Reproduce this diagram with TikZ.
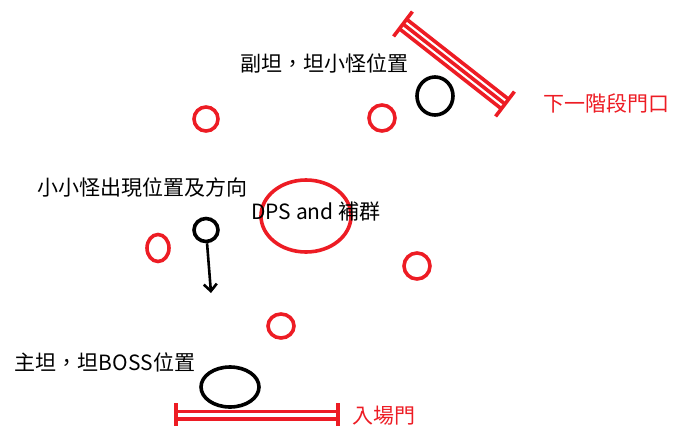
\documentclass[tikz,border=0pt]{standalone}
\usepackage{fontspec}
\usepackage{xcolor}
\usepackage{tikz}
\usetikzlibrary{shapes.geometric, arrows.meta, positioning, calc}
\newfontfamily\cjk{Noto Sans CJK TC}
\definecolor{paintred}{RGB}{237,28,36}

\begin{document}
\begin{tikzpicture}[
  x=1pt, y=-1pt,
  font=\cjk\fontsize{21}{24}\selectfont,
  redspot/.style={ellipse, draw=paintred, line width=3.6pt, inner sep=0pt},
  blackspot/.style={ellipse, draw=black, line width=3.6pt, inner sep=0pt},
  label/.style={inner sep=0pt, anchor=center},
  redlabel/.style={label, text=paintred},
  gate/.style={draw=paintred, line width=3.6pt},
  arrow/.style={-{Straight Barb[length=7pt, width=13pt]}, line width=2.6pt},
]
\useasboundingbox (0,0) rectangle (679,434);

% gate to the next stage
\coordinate (ga) at (403,24);
\coordinate (gb) at (505,104);
\draw[gate] (399.3,28.7) -- (501.3,108.7);
\draw[gate] (ga) -- (gb);
\draw[gate] (406.7,19.3) -- (508.7,99.3);
\draw[gate] (393.6,36.4) -- (412.4,11.6);
\draw[gate] (495.6,116.4) -- (514.4,91.6);
\node[redlabel] (nextgate) at (606,103) {下一階段門口};

% entrance
\draw[gate] (176,411.5) -- (338,411.5);
\draw[gate] (176,419) -- (338,419);
\draw[gate] (176,403) -- (176,426);
\draw[gate] (338,403) -- (338,426);
\node[redlabel] (entrance) at (384,416) {入場門};

% tanks
\node[blackspot, minimum width=36pt, minimum height=38pt] (offtank) at (435,96) {};
\node[label] (offtanktext) at (324,63) {副坦，坦小怪位置};
\node[blackspot, minimum width=58pt, minimum height=40pt] (maintank) at (230,387) {};
\node[label] (maintanktext) at (105,362) {主坦，坦BOSS位置};

% dps and healers
\node[redspot, minimum width=90pt, minimum height=72pt] (dps) at (306,216) {};
\node[label] (dpstext) at (316,212) {DPS and 補群};

% small red spots
\node[redspot, minimum width=24pt, minimum height=24pt] (r1) at (206,119) {};
\node[redspot, minimum width=26pt, minimum height=26pt] (r2) at (382,118) {};
\node[redspot, minimum width=22pt, minimum height=27pt] (r3) at (158,248) {};
\node[redspot, minimum width=26pt, minimum height=26pt] (r4) at (417,266) {};
\node[redspot, minimum width=26pt, minimum height=24pt] (r5) at (281,326) {};

% adds
\node[blackspot, minimum width=24pt, minimum height=23pt] (adds) at (206,230) {};
\node[label] (addstext) at (142,188) {小小怪出現位置及方向};
\coordinate (addsdir) at (211,293);
\draw[arrow] (adds) -- (addsdir);

\end{tikzpicture}
\end{document}
